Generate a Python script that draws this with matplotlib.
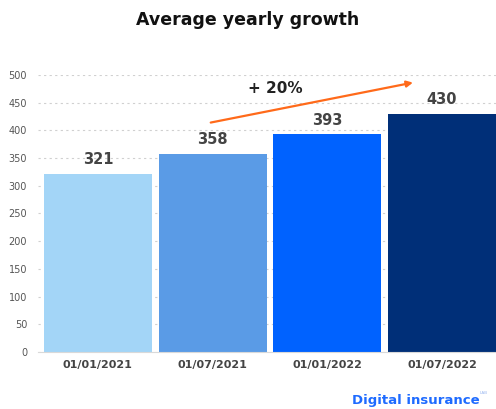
import matplotlib.pyplot as plt

dates = ["01/01/2021", "01/07/2021", "01/01/2022", "01/07/2022"]
values = [321, 358, 393, 430]
colors = ["#A3D5F7", "#5A9BE6", "#0062FF", "#002F78"]
growth_label = "+ 20%"
arrow_start = (0.96, 413)
arrow_end = (2.77, 487)

fig = plt.figure(figsize=(4.96, 4.09), dpi=100)
ax = fig.add_axes([0.077, 0.139, 0.923, 0.678])

x = range(len(dates))
bars = ax.bar(x, values, width=0.94, color=colors, zorder=2)

for xi, v in zip(x, values):
    ax.text(xi, v + 12, str(v), ha="center", va="bottom", fontsize=10.5,
            fontweight="bold", color="#444444", zorder=3)

ax.set_xlim(-0.52, 3.47)
ax.set_ylim(0, 500)
ax.set_yticks(range(0, 501, 50))
ax.set_xticks(list(x))
ax.set_xticklabels(dates, fontsize=8, fontweight="bold", color="#444444")
ax.tick_params(axis="y", labelsize=7, colors="#555555", length=0, pad=8)
ax.tick_params(axis="x", length=0, pad=6)

ax.yaxis.grid(True, linestyle=(0, (2, 3)), color="#D0D0D0", linewidth=0.8, zorder=0)
for side in ["top", "right", "left"]:
    ax.spines[side].set_visible(False)
ax.spines["bottom"].set_color("#D9D9D9")

# growth arrow between the second and last bar
ax.annotate("", xy=arrow_end, xytext=arrow_start,
            arrowprops=dict(arrowstyle="-|>", color="#FF6A1A", lw=1.6,
                            mutation_scale=9), zorder=4)
ax.text(1.55, 476, growth_label, ha="center", va="center", fontsize=11,
        fontweight="bold", color="#222222")

fig.text(0.5, 0.95, "Average yearly growth", ha="center", va="center",
         fontsize=12.5, fontweight="bold", color="#111111")
fig.text(0.71, 0.022, "Digital insurance", ha="left", va="center",
         fontsize=9.5, fontweight="bold", color="#1E6BFF")
fig.text(0.967, 0.04, "LAB", ha="left", va="center", fontsize=3,
         color="#9BB8F0")

fig.savefig("out.png", dpi=100)
